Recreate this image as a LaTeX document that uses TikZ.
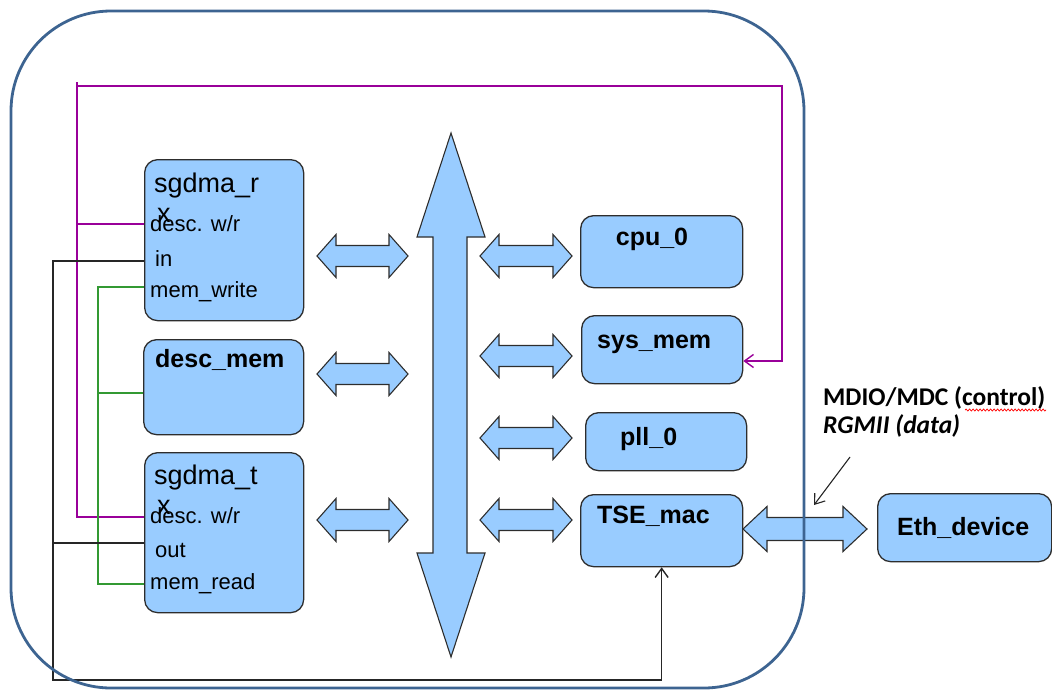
\documentclass[tikz,border=0pt]{standalone}
\usepackage{fontspec}
\setmainfont{Liberation Sans}
\newfontfamily\calib{Carlito}
\usetikzlibrary{arrows.meta,decorations.pathmorphing}
\definecolor{boxblue}{RGB}{153,204,255}
\definecolor{framecol}{RGB}{61,100,145}
\definecolor{purpwire}{RGB}{153,0,153}
\definecolor{greenwire}{RGB}{51,153,51}
\definecolor{edgegray}{RGB}{45,45,45}
% horizontal double-headed bus arrow: x1, x2, y-centre, head length, head half-height, shaft half-height
\newcommand{\hbus}[6]{%
  \draw[busarr] (#1,#3) -- (#1+#4,#3-#5) -- (#1+#4,#3-#6) -- (#2-#4,#3-#6) -- (#2-#4,#3-#5)
    -- (#2,#3) -- (#2-#4,#3+#5) -- (#2-#4,#3+#6) -- (#1+#4,#3+#6) -- (#1+#4,#3+#5) -- cycle;}
\begin{document}
\begin{tikzpicture}[x=1pt,y=-1pt,
  modbox/.style={draw=edgegray, line width=1.3pt, fill=boxblue, rounded corners=13pt,
    anchor=north west, inner sep=0pt},
  busarr/.style={draw=edgegray, line width=1.1pt, fill=boxblue, line join=miter},
  title/.style={anchor=base west, inner sep=0pt, font=\fontsize{27}{31}\selectfont},
  btitle/.style={anchor=base west, inner sep=0pt, font=\bfseries\fontsize{25}{30}\selectfont},
  port/.style={anchor=base west, inner sep=0pt, font=\fontsize{22}{26}\selectfont},
  pwire/.style={draw=purpwire, line width=1.4pt},
  gwire/.style={draw=greenwire, line width=1.4pt},
  kwire/.style={draw=black!85, line width=1.4pt},
  barb/.style={-{Straight Barb[length=9pt,width=13pt]}}
]
\useasboundingbox (0,0) rectangle (1052,691);

% ---------------- module boxes ----------------
\node[modbox, minimum width=159pt, minimum height=161pt] (rx) at (144,159) {};
\node[modbox, minimum width=160pt, minimum height=95pt]  (dm) at (143,339) {};
\node[modbox, minimum width=159pt, minimum height=160pt] (tx) at (144,452) {};
\node[modbox, minimum width=162pt, minimum height=72pt]  (cpu) at (580,215) {};
\node[modbox, minimum width=161pt, minimum height=68pt]  (smem) at (581,315) {};
\node[modbox, minimum width=161pt, minimum height=58pt]  (pll) at (585,412) {};
\node[modbox, minimum width=162pt, minimum height=72pt]  (tse) at (580,494) {};
\node[modbox, minimum width=174pt, minimum height=68pt]  (eth) at (877,493) {};

% ---------------- box texts ----------------
\node[title] (rxt1) at (154,192) {sgdma\_r};
\node[title] (rxt2) at (157,222) {x};
\node[port]  (rxd)  at (150,231) {desc. w/r};
\node[port]  (rxi)  at (155,266) {in};
\node[port]  (rxm)  at (150,297) {mem\_write};

\node[btitle] (dmt) at (155,367) {desc\_mem};

\node[title] (txt1) at (154,484) {sgdma\_t};
\node[title] (txt2) at (157,514) {x};
\node[port]  (txd)  at (150,523) {desc. w/r};
\node[port]  (txo)  at (155,557) {out};
\node[port]  (txm)  at (150,589) {mem\_read};

\node[btitle, anchor=base] (cput) at (652,245) {cpu\_0};
\node[btitle] (smemt) at (597,348) {sys\_mem};
\node[btitle] (pllt)  at (620,445) {pll\_0};
\node[btitle] (tset)  at (597,523) {TSE\_mac};
\node[btitle] (etht)  at (897,535) {Eth\_device};

% ---------------- central system bus ----------------
\draw[busarr] (451,133) -- (485,237) -- (467,237) -- (467,553) -- (485,553) -- (451,657)
  -- (417,553) -- (433,553) -- (433,237) -- (417,237) -- cycle;

% ---------------- bus connections ----------------
\hbus{317}{408}{256}{19}{21.5}{10.5}
\hbus{317}{408}{374}{19}{21.5}{10.5}
\hbus{317}{408}{520}{19}{21.5}{10.5}
\hbus{480}{572}{256}{19}{21.5}{10.5}
\hbus{480}{572}{356}{19}{21.5}{10.5}
\hbus{480}{572}{438}{19}{21.5}{10.5}
\hbus{480}{572}{520}{19}{21.5}{10.5}
% MAC to PHY link
\hbus{743}{867}{529}{24}{22.5}{11.5}

% ---------------- port coordinates ----------------
\coordinate (rxdp) at (rx.west |- 0,224);
\coordinate (rxip) at (rx.west |- 0,261);
\coordinate (rxmp) at (rx.west |- 0,287);
\coordinate (dmp)  at (dm.west |- 0,393);
\coordinate (txdp) at (tx.west |- 0,517);
\coordinate (txop) at (tx.west |- 0,543);
\coordinate (txmp) at (tx.west |- 0,584);
\coordinate (smemp) at (smem.east |- 0,361);

% descriptor path (purple)
\coordinate (pt) at (77,82);
\coordinate (pb) at (77,517);
\draw[pwire] (pt) -- (pb) -- (txdp);
\draw[pwire] (77,224) -- (rxdp);
\draw[pwire, barb] (77,86) -- (782,86) -- (782,361) -- (smemp);

% memory path (green)
\draw[gwire] (rxmp) -- (98,287) -- (98,584) -- (txmp);
\draw[gwire] (98,393) -- (dmp);

% stream path (black)
\draw[kwire, barb] (rxip) -- (53,261) -- (53,680) -- (tse.south |- 0,680) -- (tse.south);
\draw[kwire] (53,543) -- (txop);

% ---------------- interface label ----------------
\node[anchor=base west, inner sep=0pt, font=\calib\bfseries\fontsize{25.5}{30}\selectfont]
  (mdio) at (823,405) {MDIO/MDC (control)};
\node[anchor=base west, inner sep=0pt, font=\calib\bfseries\itshape\fontsize{25.5}{30}\selectfont]
  (rgmii) at (823,433) {RGMII (data)};
\draw[red, line width=0.7pt, decorate, decoration={snake, amplitude=1pt, segment length=3.5pt}]
  (965,410) -- (1046,410);
\coordinate (ptr) at (850,457);
\coordinate (ptrend) at (814,505);
\draw[black!85, line width=1.1pt, barb] (ptr) -- (ptrend);

% ---------------- outer frame ----------------
\draw[framecol, line width=2.8pt, rounded corners=100pt] (11,11) rectangle (804,688);
\end{tikzpicture}
\end{document}
